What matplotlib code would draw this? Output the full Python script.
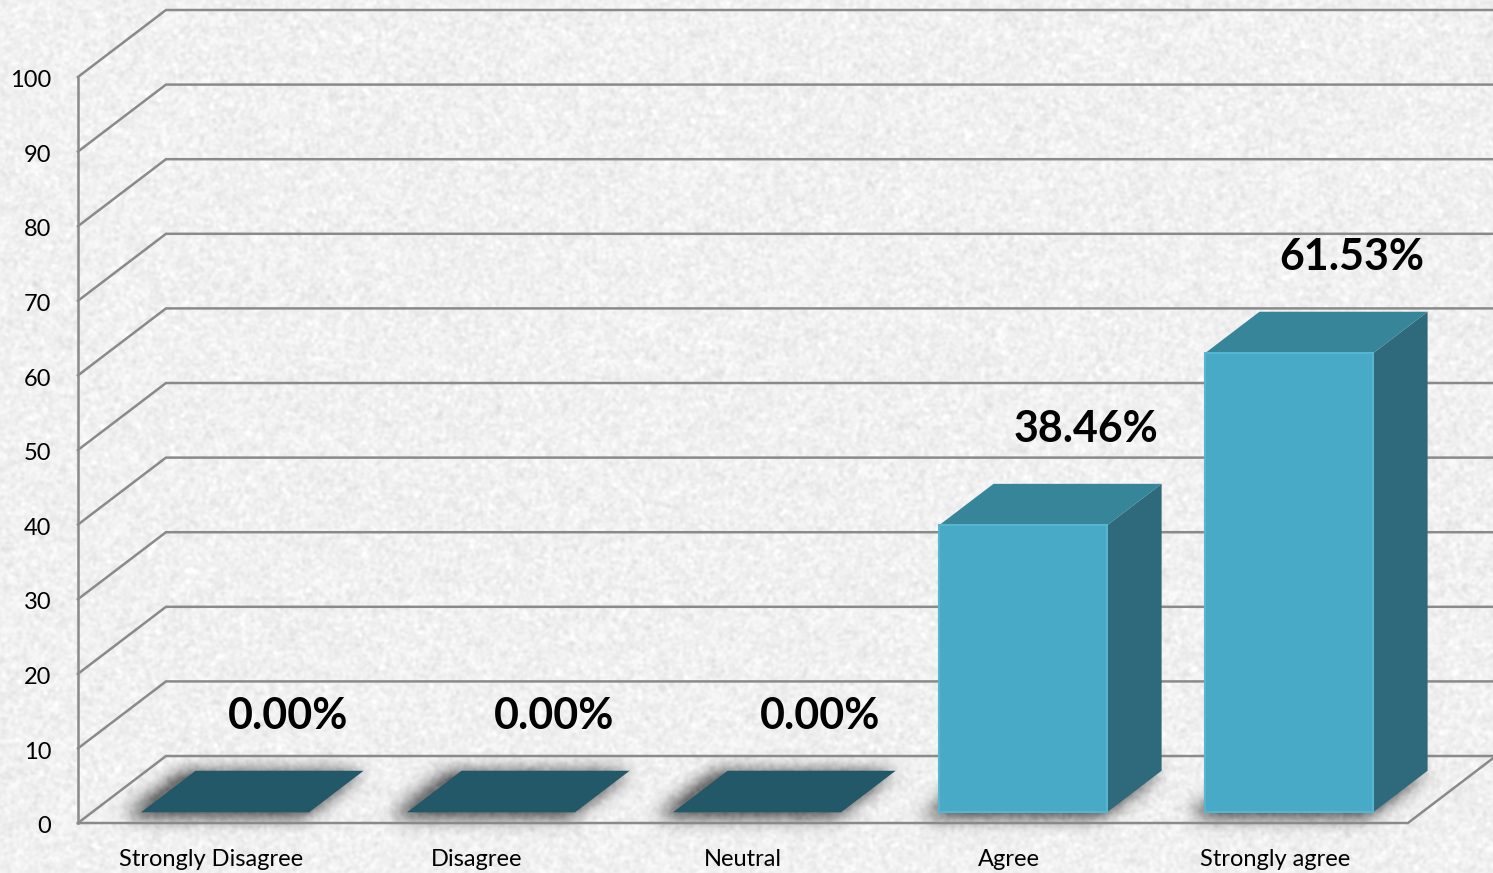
import numpy as np
import matplotlib.pyplot as plt
from matplotlib.patches import Polygon
from matplotlib.path import Path

# survey answers and their share of respondents (%)
categories = ['Strongly Disagree', 'Disagree', 'Neutral', 'Agree', 'Strongly agree']
percentages = [0.00, 0.00, 0.00, 38.46, 61.53]
y_ticks = [0, 10, 20, 30, 40, 50, 60, 70, 80, 90, 100]

plt.rcParams['font.family'] = ['Lato', 'DejaVu Sans']

# oblique projection used for the fake 3d look
DEPTH_X = 0.331
DEPTH_Y = 8.98
BAR_HALF = 0.316
D_FRONT = 0.16
D_BACK = 0.78

FRONT_COL = '#48aac6'
TOP_COL = '#368599'
SIDE_COL = '#2e6a7b'
FLAT_COL = '#225868'
GRID_COL = '#8a8a8a'


def proj(x, y, d):
    return (x + DEPTH_X * d, y + DEPTH_Y * d)


def blur(img, sigma):
    r = int(3 * sigma)
    k = np.exp(-0.5 * (np.arange(-r, r + 1) / sigma) ** 2)
    k /= k.sum()
    img = np.apply_along_axis(lambda m: np.convolve(m, k, mode='same'), 1, img)
    img = np.apply_along_axis(lambda m: np.convolve(m, k, mode='same'), 0, img)
    return img


W, H = 1493, 873
fig = plt.figure(figsize=(W / 100, H / 100), dpi=100)
ax = fig.add_axes([0, 0, 1, 1])
xlim = (-0.793, 4.820)
ylim = (-6.70, 110.32)
ax.set_xlim(*xlim)
ax.set_ylim(*ylim)
ax.axis('off')

# background: light paper with soft shadows under the bars
rng = np.random.default_rng(7)
grain = blur(rng.normal(0, 1, (H, W)), 1.5)
grain = grain / grain.std() * 0.017
bg = 0.945 + grain

cols = np.arange(W) + 0.5
rows = H - (np.arange(H) + 0.5)
gx, gy = np.meshgrid(cols, rows)
pts = np.column_stack([gx.ravel(), gy.ravel()])
mask = np.zeros(H * W)
for i in range(len(categories)):
    foot = [proj(i - BAR_HALF, 0, D_FRONT), proj(i + BAR_HALF, 0, D_FRONT),
            proj(i + BAR_HALF, 0, D_BACK), proj(i - BAR_HALF, 0, D_BACK)]
    pix = ax.transData.transform(foot)
    centre = pix.mean(axis=0)
    pix = centre + (pix - centre) * 1.07 + np.array([-9, -3])
    mask[Path(pix).contains_points(pts)] = 1.0
mask = blur(mask.reshape(H, W), 9)
bg = bg - 0.5 * np.clip(mask * 1.5, 0, 1)
bg = np.clip(bg, 0, 1)
ax.imshow(np.dstack([bg, bg, bg]), extent=(*xlim, *ylim), origin='upper',
          aspect='auto', zorder=0, interpolation='nearest')

# walls, floor and gridlines
for v in y_ticks:
    p0 = proj(-0.5, v, 0)
    p1 = proj(-0.5, v, 1)
    p2 = proj(4.5, v, 1)
    ax.plot([p0[0], p1[0], p2[0]], [p0[1], p1[1], p2[1]], color=GRID_COL, lw=1.8,
            zorder=1, solid_joinstyle='miter')
ax.plot([-0.5, -0.5], [0, 100], color=GRID_COL, lw=1.8, zorder=1)
f1 = proj(4.5, 0, 1)
ax.plot([-0.5, 4.5, f1[0]], [0, 0, f1[1]], color=GRID_COL, lw=1.8, zorder=1,
        solid_joinstyle='miter')

# bars
for i, v in enumerate(percentages):
    xl, xr = i - BAR_HALF, i + BAR_HALF
    if v == 0:
        flat = [proj(xl, 0, D_FRONT), proj(xr, 0, D_FRONT),
                proj(xr, 0, D_BACK), proj(xl, 0, D_BACK)]
        ax.add_patch(Polygon(flat, closed=True, fc=FLAT_COL, ec='none', zorder=3))
        continue
    front = [proj(xl, 0, D_FRONT), proj(xr, 0, D_FRONT),
             proj(xr, v, D_FRONT), proj(xl, v, D_FRONT)]
    top = [proj(xl, v, D_FRONT), proj(xr, v, D_FRONT),
           proj(xr, v, D_BACK), proj(xl, v, D_BACK)]
    side = [proj(xr, 0, D_FRONT), proj(xr, 0, D_BACK),
            proj(xr, v, D_BACK), proj(xr, v, D_FRONT)]
    ax.add_patch(Polygon(side, closed=True, fc=SIDE_COL, ec='none', zorder=3))
    ax.add_patch(Polygon(top, closed=True, fc=TOP_COL, ec='none', zorder=3))
    ax.add_patch(Polygon(front, closed=True, fc=FRONT_COL, ec='#57b6cf', lw=1.5,
                         zorder=4))

# value labels
for i, v in enumerate(percentages):
    ax.text(i + 0.29, v + 14.4, f'{v:.2f}%', ha='center', va='center',
            fontsize=31, fontweight='bold', color='black', zorder=5)

# axis labels
for v in y_ticks:
    ax.text(-0.6, v - 0.5, str(v), ha='right', va='center', fontsize=17, color='black')
for i, c in enumerate(categories):
    ax.text(i, -4.9, c, ha='center', va='center', fontsize=17, color='black')

fig.savefig('out.png', dpi=100)
